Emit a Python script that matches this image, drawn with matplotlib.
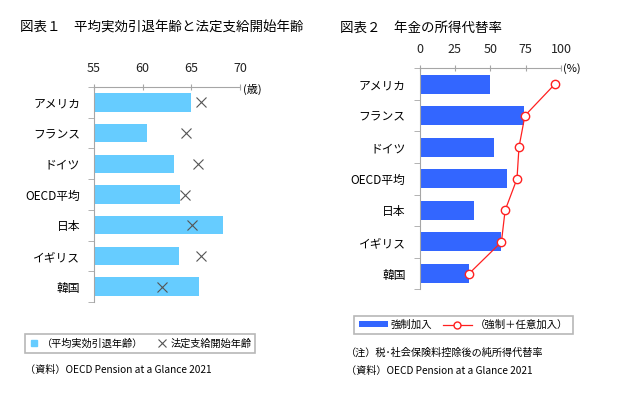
import matplotlib
matplotlib.use('Agg')
import matplotlib.pyplot as plt
from matplotlib.lines import Line2D
from matplotlib.patches import Patch
from matplotlib.ticker import FixedLocator

plt.rcParams['font.family'] = ['Noto Sans CJK JP', 'DejaVu Sans']

# data
countries = ['アメリカ', 'フランス', 'ドイツ', 'OECD平均', '日本', 'イギリス', '韓国']
retire_age = [65.0, 60.4, 63.2, 63.8, 68.3, 63.7, 65.8]
pension_age = [66.0, 64.5, 65.7, 64.3, 65.1, 66.0, 62.0]

countries2 = ['アメリカ', 'フランス', 'ドイツ', 'OECD平均', '日本', 'イギリス', '韓国']
mandatory = [50.0, 73.8, 52.3, 62.1, 38.3, 57.9, 35.1]
mand_vol = [95.7, 74.5, 70.3, 68.9, 60.5, 57.9, 35.1]

W, H = 630, 393
fig = plt.figure(figsize=(6.3, 3.93), dpi=100)
spine_col = '#a6a6a6'


def setup(ax, n):
    ax.xaxis.tick_top()
    for s in ['right', 'bottom']:
        ax.spines[s].set_visible(False)
    for s in ['top', 'left']:
        ax.spines[s].set_color(spine_col)
    ax.set_ylim(n - 0.5, -0.5)
    ax.set_yticks(range(n))
    ax.yaxis.set_minor_locator(FixedLocator([i - 0.5 for i in range(n + 1)]))
    ax.tick_params(axis='y', which='major', length=0, pad=10, labelsize=8.5)
    ax.tick_params(axis='y', which='minor', length=4, color=spine_col, direction='out')
    ax.tick_params(axis='x', which='major', length=5, color=spine_col, direction='inout',
                   pad=6, labelsize=9, labelcolor='#222222')


# chart 1
ax1 = fig.add_axes([94 / W, 1 - 302 / H, (240 - 94) / W, (302 - 87) / H])
y = range(len(countries))
ax1.barh(y, [r - 55 for r in retire_age], left=55, height=0.6, color='#66ccff')
ax1.plot(pension_age, y, linestyle='none', marker='x', markersize=7, mew=0.8, color='#555555')
ax1.set_xlim(55, 70)
ax1.set_xticks([55, 60, 65, 70])
setup(ax1, len(countries))
ax1.set_yticklabels(countries)
fig.text(243 / W, 1 - 89 / H, '(歳)', fontsize=8, va='center', ha='left')

# chart 2
ax2 = fig.add_axes([419.5 / W, 1 - 289.3 / H, (561 - 419.5) / W, (289.3 - 68.3) / H])
y2 = range(len(countries2))
ax2.barh(y2, mandatory, height=0.6, color='#3366ff')
ax2.plot(mand_vol, y2, color='#ff2020', linewidth=0.9, marker='o', markersize=6,
         markerfacecolor='white', markeredgecolor='#ff2020', mew=1)
ax2.set_xlim(0, 100)
ax2.set_xticks([0, 25, 50, 75, 100])
setup(ax2, len(countries2))
ax2.set_yticklabels(countries2)
fig.text(563 / W, 1 - 69 / H, '(%)', fontsize=8, va='center', ha='left')

# titles
fig.text(20 / W, 1 - 28 / H, '図表１　平均実効引退年齢と法定支給開始年齢', fontsize=9.7, va='center')
fig.text(340 / W, 1 - 28 / H, '図表２　年金の所得代替率', fontsize=9.7, va='center')

# legends
h1 = [Line2D([], [], linestyle='none', marker='s', markersize=5, color='#66ccff'),
      Line2D([], [], linestyle='none', marker='x', markersize=6, mew=0.8, color='#555555')]
leg1 = fig.legend(h1, ['（平均実効引退年齢）', '法定支給開始年齢'], loc='center',
                  bbox_to_anchor=(140 / W, 1 - 343.5 / H), ncol=2, fontsize=7.3,
                  frameon=True, fancybox=False, edgecolor=spine_col, handlelength=1,
                  handletextpad=0.3, columnspacing=1.4, borderpad=0.4)
leg1.get_frame().set_linewidth(1.2)

h2 = [Patch(facecolor='#3366ff'),
      Line2D([], [], color='#ff2020', linewidth=0.9, marker='o', markersize=5,
             markerfacecolor='white', markeredgecolor='#ff2020')]
leg2 = fig.legend(h2, ['強制加入', '（強制＋任意加入）'], loc='center',
                  bbox_to_anchor=(463.5 / W, 1 - 325 / H), ncol=2, fontsize=7.5,
                  frameon=True, fancybox=False, edgecolor=spine_col, handlelength=2.8,
                  handleheight=0.5, handletextpad=0.3, columnspacing=1.0, borderpad=0.4)
leg2.get_frame().set_linewidth(1.2)

# notes
fig.text(25 / W, 1 - 370 / H, '（資料）OECD Pension at a Glance 2021', fontsize=7.3, va='center')
fig.text(346 / W, 1 - 352.5 / H, '（注）税･社会保険料控除後の純所得代替率', fontsize=7.3, va='center')
fig.text(346 / W, 1 - 371 / H, '（資料）OECD Pension at a Glance 2021', fontsize=7.3, va='center')

fig.savefig('out.png', dpi=100)
